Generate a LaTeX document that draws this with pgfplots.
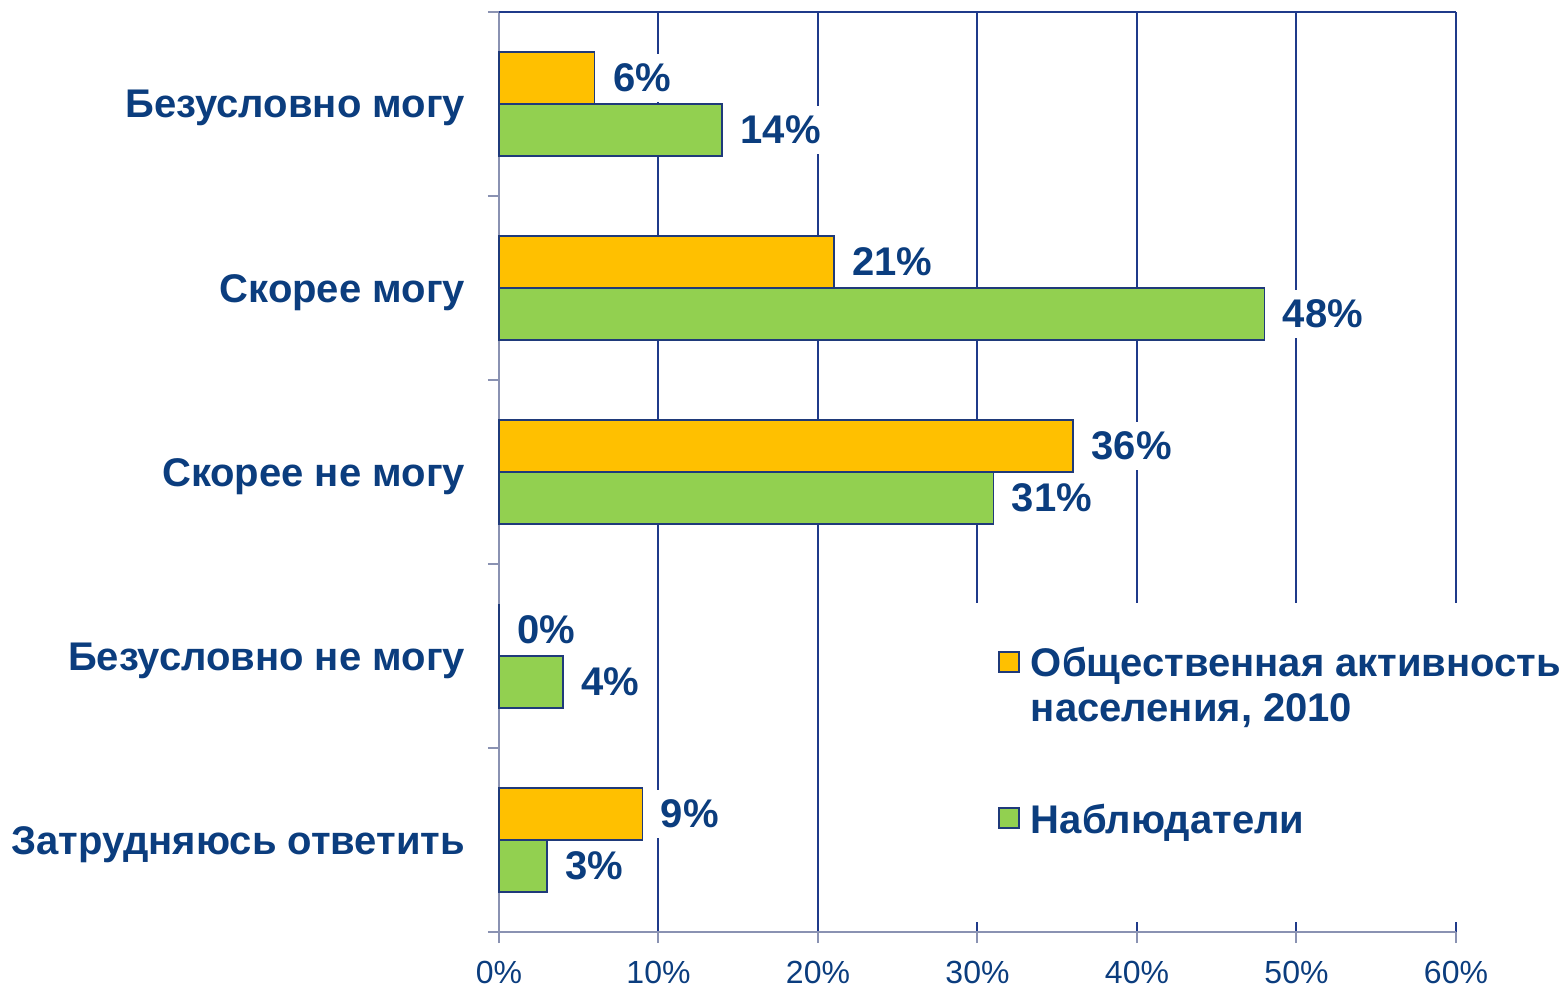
\documentclass[border=0pt]{standalone}
\usepackage{pgfplots}
\pgfplotsset{compat=1.18}
\usepackage{pgfplotstable}
\usepackage{fontspec}
\setmainfont{Liberation Sans}
\definecolor{txt}{HTML}{0B3D7E}
\definecolor{gridc}{HTML}{1F3A8A}
\definecolor{axg}{HTML}{8A92B2}
\definecolor{org}{HTML}{FFC000}
\definecolor{grn}{HTML}{92D050}
\definecolor{bord}{HTML}{1F3A7A}

% y: 4 = Безусловно могу ... 0 = Затрудняюсь ответить
\pgfplotstableread{
y val
4 6
3 21
2 36
1 0
0 9
}\orgdata
\pgfplotstableread{
y val
4 14
3 48
2 31
1 4
0 3
}\grndata

\begin{document}
\begin{tikzpicture}
\useasboundingbox (-249.5pt,-27.5pt) rectangle (531.5pt,466pt);
\begin{axis}[
  at={(0pt,0pt)}, anchor=south west,
  scale only axis, width=478.5pt, height=460pt,
  clip=false,
  xmin=0, xmax=60, ymin=-0.5, ymax=4.5,
  axis x line*=bottom, axis y line*=left,
  axis line style={-, draw=axg, line width=1pt},
  xtick={0,10,20,30,40,50,60},
  xticklabels={0\%,10\%,20\%,30\%,40\%,50\%,60\%},
  xticklabel style={font=\fontsize{16}{19}\selectfont, text=txt, anchor=base, yshift=-20pt},
  ytick={-0.5,0.5,1.5,2.5,3.5,4.5},
  yticklabels={},
  extra y ticks={0,1,2,3,4},
  extra y tick labels={Затрудняюсь ответить, Безусловно не могу, Скорее не могу, Скорее могу, Безусловно могу},
  extra y tick style={tick style={draw=none}, grid=none},
  yticklabel style={font=\bfseries\fontsize{20}{24}\selectfont, text=txt, anchor=base east, xshift=-8pt, yshift=-7pt},
  tick align=outside, major tick length=5.5pt,
  tick style={draw=axg, line width=1pt},
  xmajorgrids, ymajorgrids=false,
  major grid style={draw=gridc, line width=1pt},
  /pgf/number format/assume math mode=true,
  legend style={at={(rel axis cs:0.5214,0.3098)}, anchor=north west, draw=none, fill=none,
    inner sep=0pt, row sep=39.5pt, column sep=5.5pt,
    font=\bfseries\fontsize{20}{22.5}\selectfont, text=txt,
    nodes={inner sep=0pt}, cells={align=left, anchor=west}},
]
\addplot[xbar, bar width=26pt, bar shift=13pt, fill=org, draw=bord, line width=0.8pt,
  legend image code/.code={\draw[fill=org, draw=bord, line width=0.8pt] (0pt,7pt) rectangle (10pt,17pt);}]
  table[x=val, y=y] {\orgdata};
\addlegendentry{Общественная активность\\населения, 2010}
\addplot[xbar, bar width=26pt, bar shift=-13pt, fill=grn, draw=bord, line width=0.8pt,
  legend image code/.code={\draw[fill=grn, draw=bord, line width=0.8pt] (0pt,-4pt) rectangle (10pt,6pt);}]
  table[x=val, y=y] {\grndata};
\addlegendentry{Наблюдатели}
% white background of the legend area
\fill[white] (rel axis cs:0.494,0.011) rectangle (rel axis cs:1.01,0.3576);
% top border line
\draw[gridc, line width=1pt] (rel axis cs:0,1) -- (rel axis cs:1,1);
% data labels, drawn on top of all bars
\addplot[xbar, bar width=26pt, bar shift=13pt, draw=none, fill=none, forget plot,
  point meta=x, nodes near coords={\pgfmathprintnumber{\pgfplotspointmeta}\%},
  every node near coord/.append style={font=\bfseries\fontsize{20}{24}\selectfont, text=txt, fill=white,
    inner xsep=5pt, inner ysep=5pt, anchor=west, xshift=4pt, yshift=13pt}]
  table[x=val, y=y] {\orgdata};
\addplot[xbar, bar width=26pt, bar shift=-13pt, draw=none, fill=none, forget plot,
  point meta=x, nodes near coords={\pgfmathprintnumber{\pgfplotspointmeta}\%},
  every node near coord/.append style={font=\bfseries\fontsize{20}{24}\selectfont, text=txt, fill=white,
    inner xsep=5pt, inner ysep=5pt, anchor=west, xshift=4pt, yshift=-13pt}]
  table[x=val, y=y] {\grndata};
\end{axis}
\end{tikzpicture}
\end{document}
